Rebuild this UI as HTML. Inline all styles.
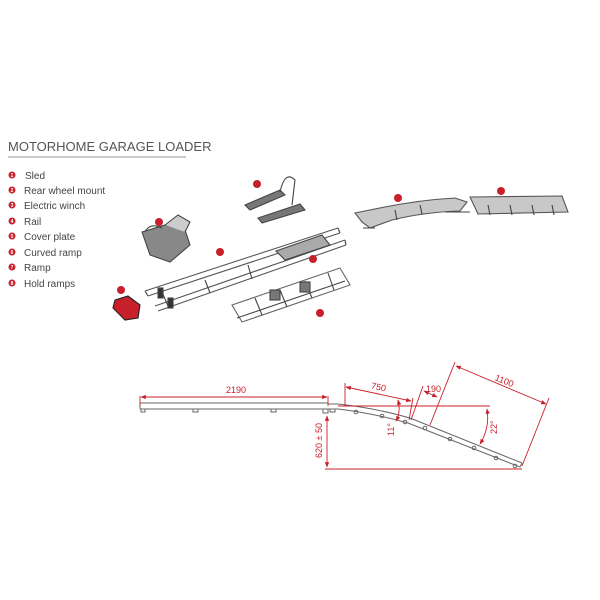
<!DOCTYPE html>
<html><head><meta charset="utf-8"><style>
html,body{margin:0;padding:0;background:#fff;width:600px;height:600px;overflow:hidden}
svg{display:block}
text{font-family:"Liberation Sans",sans-serif}
</style></head><body>
<svg width="600" height="600" viewBox="0 0 600 600" xmlns="http://www.w3.org/2000/svg">
<defs>
<marker id="a" viewBox="0 0 10 10" refX="9" refY="5" markerWidth="6" markerHeight="6" orient="auto-start-reverse"><path d="M0,1 L10,5 L0,9z" fill="#c8202a"/></marker>
</defs>
<text x="8" y="151" font-size="13" fill="#555">MOTORHOME GARAGE LOADER</text>
<line x1="8" y1="157" x2="186" y2="157" stroke="#999" stroke-width="1"/>
<g font-size="10" fill="#444">
<g fill="#c8202a">
<circle cx="12" cy="175" r="3.5"/><circle cx="12" cy="190" r="3.5"/><circle cx="12" cy="205" r="3.5"/><circle cx="12" cy="221" r="3.5"/>
<circle cx="12" cy="236" r="3.5"/><circle cx="12" cy="252" r="3.5"/><circle cx="12" cy="267" r="3.5"/><circle cx="12" cy="283" r="3.5"/>
</g>
<g fill="#fff" font-size="5" font-weight="bold" text-anchor="middle">
<text x="12" y="177">1</text><text x="12" y="192">2</text><text x="12" y="207">3</text><text x="12" y="223">4</text>
<text x="12" y="238">5</text><text x="12" y="254">6</text><text x="12" y="269">7</text><text x="12" y="285">8</text>
</g>
<text x="25" y="179">Sled</text>
<text x="24" y="194">Rear wheel mount</text>
<text x="24" y="209">Electric winch</text>
<text x="24" y="225">Rail</text>
<text x="24" y="240">Cover plate</text>
<text x="24" y="256">Curved ramp</text>
<text x="24" y="271">Ramp</text>
<text x="24" y="287">Hold ramps</text>
</g>

<g stroke="#444" fill="none" stroke-width="1.1">
<path d="M142,232 L165,225 L185,230 L190,245 L170,262 L150,255 Z" fill="#888"/>
<path d="M165,225 L178,215 L190,222 L185,232" fill="#ccc"/>
<path d="M145,232 Q150,222 162,228"/>
<path d="M245,205 L280,190 L285,195 L250,210 Z" fill="#777"/>
<path d="M258,218 L300,204 L305,210 L262,223 Z" fill="#777"/>
<path d="M280,192 Q285,170 295,180 L292,205"/>
<path d="M115,300 L128,296 L140,305 L138,318 L125,320 L113,308 Z" fill="#c8202a" stroke="#222"/>
<path d="M145,291 L338,228 M148,296 L340,233" stroke="#555"/>
<path d="M155,306 L345,240 M158,311 L346,245" stroke="#555"/>
<path d="M145,291 L148,296 M338,228 L340,233 M345,240 L346,245"/>
<path d="M162,292 L168,306 M205,280 L210,293 M248,265 L252,279"/>
<path d="M276,251 L322,235 L330,245 L285,260 Z" fill="#aaa"/>
<rect x="158" y="288" width="5" height="10" fill="#333"/><rect x="168" y="298" width="5" height="10" fill="#333"/>
<path d="M232,305 L340,268 L350,285 L242,322 Z" stroke="#666" fill="none"/>
<path d="M237,318 L345,281 M255,298 L262,315 M280,290 L287,307 M305,281 L312,298 M328,273 L334,290"/>
<rect x="270" y="290" width="10" height="10" fill="#777"/><rect x="300" y="282" width="10" height="10" fill="#777"/>
<path d="M355,213 L385,207 Q420,200 455,198 L467,202 L460,211 Q425,212 392,220 L370,228 L362,222 Z" fill="#c8c8c8" stroke="#555"/>
<path d="M445,212 L470,212 M363,228 L375,228 M395,210 L397,220 M420,205 L422,214"/>
<path d="M470,197 L562,196 L568,212 L478,214 Z" fill="#c8c8c8" stroke="#555"/>
<path d="M488,205 L490,215 M510,205 L512,215 M532,205 L534,215 M552,205 L554,215"/>
</g>
<g fill="#c8202a">
<circle cx="159" cy="222" r="4"/><circle cx="257" cy="184" r="4"/><circle cx="121" cy="290" r="4"/><circle cx="220" cy="252" r="4"/>
<circle cx="313" cy="259" r="4"/><circle cx="320" cy="313" r="4"/><circle cx="398" cy="198" r="4"/><circle cx="501" cy="191" r="4"/>
</g>

<g stroke="#666" stroke-width="1" fill="none">
<path d="M140,403 L328,403 M140,409 L328,409 M140,403 L140,409"/>
<path d="M328,404 L338,404 Q375,408 410,418 L522,463 M328,409 L338,409 Q372,413 408,423 L520,467 L522,463"/>
<path d="M141,409 v3 h4 v-3 M193,409 v3 h5 v-3 M271,409 v3 h5 v-3 M323,409 v4 h5 v-4 M330,409 v3 h5 v-3"/>
<circle cx="356" cy="412" r="1.8"/><circle cx="382" cy="416" r="1.8"/><circle cx="405" cy="422" r="1.8"/><circle cx="425" cy="428" r="1.8"/><circle cx="450" cy="439" r="1.8"/><circle cx="474" cy="448" r="1.8"/><circle cx="496" cy="458" r="1.8"/><circle cx="515" cy="466" r="1.8"/>
</g>
<g stroke="#c8202a" stroke-width="0.9" fill="none">
<path d="M140,396 v10 M328,396 v10"/>
<line x1="141" y1="397" x2="327" y2="397" marker-start="url(#a)" marker-end="url(#a)"/>
<line x1="327" y1="416" x2="327" y2="467" marker-start="url(#a)" marker-end="url(#a)"/>
<line x1="325" y1="469" x2="522" y2="469"/>
<line x1="338" y1="406" x2="490" y2="406"/>
<path d="M345,383 v23 M413,398 l-4,22 M423,386 l-12,34"/>
<line x1="346" y1="387" x2="411" y2="401" marker-start="url(#a)" marker-end="url(#a)"/>
<line x1="424" y1="391" x2="437" y2="397" marker-start="url(#a)" marker-end="url(#a)"/>
<path d="M455,362 L430,425 M549,398 L522,466"/>
<line x1="456" y1="366" x2="546" y2="404" marker-start="url(#a)" marker-end="url(#a)"/>
<path d="M487,409 Q490,428 480,444" marker-start="url(#a)" marker-end="url(#a)"/>
<path d="M398,400 Q401,412 396,421" marker-start="url(#a)" marker-end="url(#a)"/>
</g>
<g fill="#c8202a" font-size="9">
<text x="226" y="393">2190</text>
<text x="371" y="391" transform="rotate(12 383 388)">750</text>
<text x="426" y="392">190</text>
<text x="495" y="384" transform="rotate(22 505 380)">1100</text>
<text x="0" y="0" transform="translate(322,458) rotate(-90)">620 ± 50</text>
<text x="0" y="0" transform="translate(497,434) rotate(-90)">22°</text>
<text x="0" y="0" transform="translate(394,436) rotate(-90)">11°</text>
</g>
</svg>
</body></html>
